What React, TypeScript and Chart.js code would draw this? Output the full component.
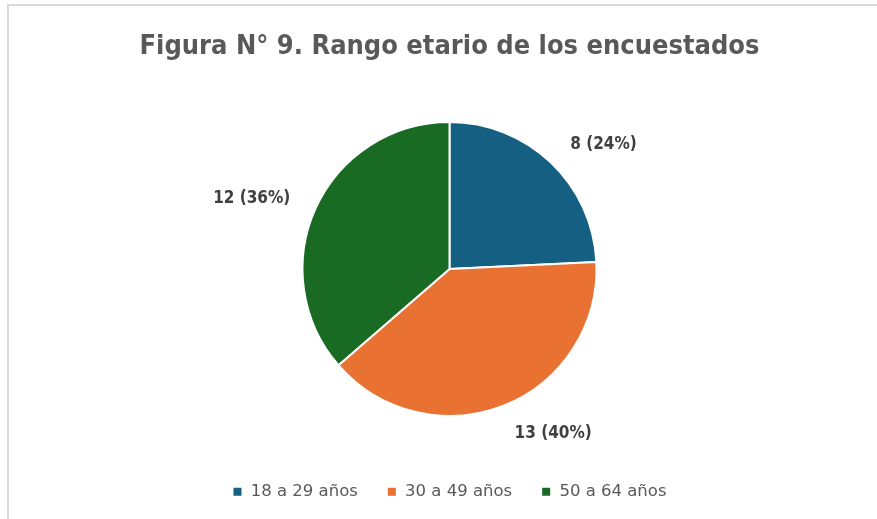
import React, { useEffect, useRef } from "react";
import { Chart, registerables } from "chart.js";

Chart.register(...registerables);

const titleText = "Figura N° 9. Rango etario de los encuestados";
const categories = ["18 a 29 años", "30 a 49 años", "50 a 64 años"];
const counts = [8, 13, 12];
const percentLabels = [24, 40, 36];
const colors = ["#156082", "#E97132", "#196B24"];

const labelPlugin = {
  id: "outsideLabels",
  afterDatasetsDraw(chart: any) {
    const ctx = chart.ctx;
    const meta = chart.getDatasetMeta(0);
    ctx.save();
    ctx.font = "bold 17px 'DejaVu Sans Condensed', 'DejaVu Sans', sans-serif";
    ctx.fillStyle = "#404040";
    ctx.textBaseline = "middle";
    meta.data.forEach((arc: any, i: number) => {
      const p = arc.getProps(["x", "y", "startAngle", "endAngle", "outerRadius"], true);
      const mid = (p.startAngle + p.endAngle) / 2;
      const d = p.outerRadius + 28;
      const x = p.x + Math.cos(mid) * d;
      const y = p.y + Math.sin(mid) * d + 2;
      ctx.textAlign = Math.cos(mid) >= 0 ? "left" : "right";
      ctx.fillText(`${counts[i]} (${percentLabels[i]}%)`, x, y);
    });
    ctx.restore();
  },
};

export default function App() {
  const ref = useRef<HTMLCanvasElement>(null);
  useEffect(() => {
    if (!ref.current) return;
    const chart = new Chart(ref.current, {
      type: "pie",
      data: {
        labels: categories,
        datasets: [
          {
            data: counts,
            backgroundColor: colors,
            borderColor: "#ffffff",
            borderWidth: 2,
            radius: 147,
          },
        ],
      },
      options: {
        responsive: false,
        animation: false,
        layout: { padding: { top: 31, left: 22, right: 0, bottom: 9 } },
        plugins: {
          tooltip: { enabled: false },
          title: {
            display: true,
            text: titleText,
            color: "#595959",
            font: { family: "'DejaVu Sans Condensed', 'DejaVu Sans', sans-serif", size: 27, weight: "bold" },
            padding: { top: 0, bottom: 20 },
          },
          legend: {
            position: "bottom",
            labels: {
              boxWidth: 10,
              boxHeight: 10,
              padding: 29,
              color: "#595959",
              font: { family: "'DejaVu Sans', sans-serif", size: 16.5 },
            },
          },
        },
      },
      plugins: [labelPlugin],
    });
    return () => chart.destroy();
  }, []);
  return (
    <div style={{ position: "absolute", left: 0, top: 0, width: 877, height: 519, background: "#fff" }}>
      <div style={{ position: "absolute", left: 7, top: 4, width: 870, height: 2, background: "#d9d9d9" }} />
      <div style={{ position: "absolute", left: 7, top: 4, width: 2, height: 515, background: "#d9d9d9" }} />
      <canvas ref={ref} width={877} height={519} style={{ position: "absolute", left: 0, top: 0, width: 877, height: 519 }} />
    </div>
  );
}
